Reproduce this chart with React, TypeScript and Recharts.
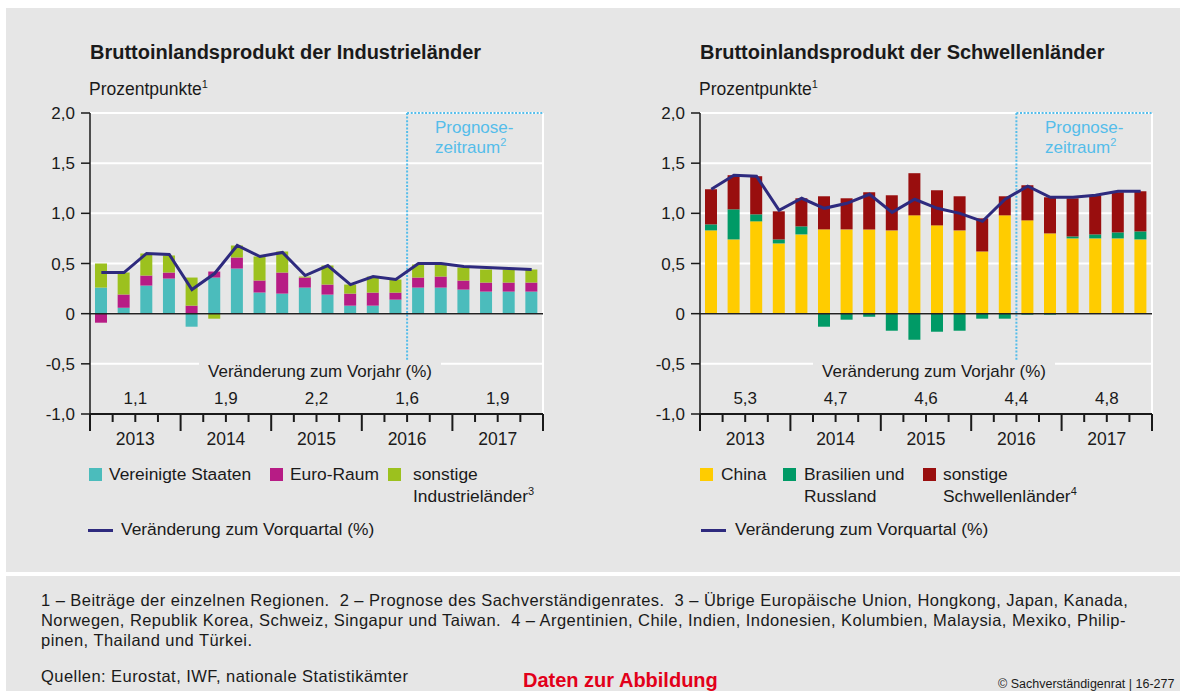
import React from 'react';
import { ComposedChart, Bar, Line, XAxis, YAxis, CartesianGrid, ReferenceLine } from 'recharts';

const FONT = "'Liberation Sans', Arial, Helvetica, sans-serif";
const INK = '#1a1a1a';

const quarters = ['2013Q1','2013Q2','2013Q3','2013Q4','2014Q1','2014Q2','2014Q3','2014Q4','2015Q1','2015Q2','2015Q3','2015Q4','2016Q1','2016Q2','2016Q3','2016Q4','2017Q1','2017Q2','2017Q3','2017Q4'];
const yearLabels = ['2013','2014','2015','2016','2017'];
const yTicks = [-1, -0.5, 0, 0.5, 1, 1.5, 2];
const xBoundaries = [0,1,2,3,4,5,6,7,8,9,10,11,12,13,14,15,16,17,18,19,20];
const forecastStart = 14;

// Industrieländer (Prozentpunkte)
const indUS = [0.26,0.06,0.28,0.35,-0.13,0.36,0.45,0.21,0.20,0.26,0.19,0.08,0.08,0.14,0.26,0.26,0.24,0.22,0.22,0.22];
const indEuro = [-0.09,0.13,0.10,0.06,0.08,0.06,0.11,0.12,0.21,0.10,0.10,0.12,0.13,0.07,0.10,0.11,0.09,0.09,0.09,0.09];
const indOther = [0.24,0.22,0.22,0.17,0.28,-0.05,0.12,0.24,0.21,0.01,0.19,0.09,0.16,0.13,0.13,0.12,0.13,0.13,0.13,0.13];
const indTotal = [0.41,0.41,0.60,0.59,0.24,0.40,0.68,0.57,0.61,0.38,0.48,0.29,0.37,0.34,0.50,0.50,0.47,0.46,0.45,0.44];
const indAnnual = ['1,1','1,9','2,2','1,6','1,9'];

// Schwellenländer (Prozentpunkte)
const emChina = [0.83,0.74,0.92,0.70,0.79,0.84,0.84,0.84,0.83,0.98,0.88,0.83,0.62,0.98,0.93,0.80,0.75,0.75,0.75,0.74];
const emBrRu = [0.06,0.30,0.07,0.04,0.08,-0.13,-0.06,-0.03,-0.17,-0.26,-0.18,-0.17,-0.05,-0.05,-0.01,-0.01,0.02,0.04,0.06,0.08];
const emOther = [0.35,0.34,0.38,0.28,0.28,0.33,0.31,0.37,0.35,0.42,0.35,0.34,0.33,0.19,0.35,0.36,0.38,0.39,0.40,0.40];
const emTotal = [1.24,1.38,1.37,1.03,1.15,1.05,1.10,1.19,1.01,1.14,1.05,1.00,0.92,1.14,1.27,1.16,1.16,1.18,1.22,1.22];
const emAnnual = ['5,3','4,7','4,6','4,4','4,8'];

const indColors = ['#4bbcbc', '#b71c85', '#9cc11e'];
const emColors = ['#ffcc00', '#009a66', '#990e0e'];
const LINE_COLOR = '#2e2a7e';
const FORECAST = '#55bdea';

const build = (a: number[], b: number[], c: number[], t: number[]) =>
  quarters.map((q, i) => ({ q, pos: i + 0.5, a: a[i], b: b[i], c: c[i], t: t[i] }));

const indData = build(indUS, indEuro, indOther, indTotal);
const emData = build(emChina, emBrRu, emOther, emTotal);

const fmt = (v: number) => (v === 0 ? '0' : v.toFixed(1).replace('.', ','));

const makeTick = (annual: string[]) => (props: any) => {
  const { x, y, payload } = props;
  const v = payload.value as number;
  const big = v % 4 === 0;
  const els: any[] = [
    <line key="l" x1={x} x2={x} y1={y} y2={y + (big ? 17 : 8)} stroke={INK} strokeWidth={2} />,
  ];
  if (v % 4 === 2) {
    const k = (v - 2) / 4;
    els.push(
      <text key="y" x={x} y={y + 31} textAnchor="middle" fontSize={17.5} fill={INK} fontFamily={FONT}>{yearLabels[k]}</text>
    );
    els.push(
      <text key="a" x={x} y={y - 10} textAnchor="middle" fontSize={17} fill={INK} fontFamily={FONT}>{annual[k]}</text>
    );
  }
  return <g>{els}</g>;
};

function Panel({ data, colors, annual, left, width, mr }: any) {
  return (
    <div style={{ position: 'absolute', left, top: 0, width, height: 480 }}>
      <ComposedChart width={width} height={480} data={data} stackOffset="sign"
        margin={{ top: 113, right: mr, bottom: 6, left: 0 }}>
        <CartesianGrid horizontal vertical={false} stroke="#ffffff" strokeWidth={2} />
        <XAxis xAxisId="num" dataKey="pos" type="number" domain={[0, 20]} allowDataOverflow
          ticks={xBoundaries} interval={0} height={60} tickSize={0} tickMargin={0}
          axisLine={{ stroke: INK, strokeWidth: 2 }} tickLine={false} tick={makeTick(annual)} />
        <XAxis dataKey="q" hide height={0} />
        <YAxis domain={[-1, 2]} ticks={yTicks} interval={0} allowDataOverflow width={90}
          tickFormatter={fmt} tickSize={9} tickMargin={6}
          axisLine={{ stroke: INK, strokeWidth: 1.5 }} tickLine={{ stroke: INK, strokeWidth: 1.5 }}
          tick={{ fontSize: 17, fill: INK, fontFamily: FONT }} />
        <ReferenceLine xAxisId="num" x={20} stroke="#ffffff" strokeWidth={2} />
        <ReferenceLine xAxisId="num" segment={[{ x: forecastStart, y: 2 }, { x: 20, y: 2 }]}
          stroke={FORECAST} strokeWidth={2} strokeDasharray="2 1.6" />
        <ReferenceLine xAxisId="num" segment={[{ x: forecastStart, y: 2 }, { x: forecastStart, y: -0.5 }]}
          stroke={FORECAST} strokeWidth={2} strokeDasharray="2 1.6" />
        <Bar dataKey="a" stackId="s" fill={colors[0]} barSize={12} isAnimationActive={false} />
        <Bar dataKey="b" stackId="s" fill={colors[1]} barSize={12} isAnimationActive={false} />
        <Bar dataKey="c" stackId="s" fill={colors[2]} barSize={12} isAnimationActive={false} />
        <ReferenceLine y={0} stroke="#222" strokeWidth={1.5} />
        <Line xAxisId="num" dataKey="t" stroke={LINE_COLOR} strokeWidth={3} dot={false}
          isAnimationActive={false} type="linear" />
      </ComposedChart>
    </div>
  );
}

function T({ x, b, fs = 17, children, style, center }: any) {
  return (
    <div style={{
      position: 'absolute', left: x, top: b - 0.8465 * fs, fontSize: fs, lineHeight: `${fs}px`,
      whiteSpace: 'pre', transform: center ? 'translateX(-50%)' : undefined, ...style,
    }}>{children}</div>
  );
}

const Sup = ({ children }: any) => (
  <span style={{ fontSize: 11, position: 'relative', top: -7 }}>{children}</span>
);

const Sq = ({ x, color }: any) => (
  <div style={{ position: 'absolute', left: x, top: 468, width: 13, height: 13, background: color }} />
);

const LegLine = ({ x }: any) => (
  <div style={{ position: 'absolute', left: x, top: 528.5, width: 25, height: 3, background: LINE_COLOR }} />
);

const VjBox = ({ cx }: any) => (
  <div style={{
    position: 'absolute', left: cx, top: 361, height: 22, lineHeight: '22px', fontSize: 17,
    padding: '0 9px', background: '#e6e6e6', transform: 'translateX(-50%)', whiteSpace: 'pre',
  }}>Veränderung zum Vorjahr (%)</div>
);

const Prog = ({ x }: any) => (
  <>
    <T x={x} b={133} style={{ color: FORECAST }}>Prognose-</T>
    <T x={x} b={153} style={{ color: FORECAST }}>zeitraum<Sup>2</Sup></T>
  </>
);

const FN = { letterSpacing: 0.45 };

export default function App() {
  return (
    <div style={{
      position: 'absolute', left: 0, top: 0, width: 1180, height: 691, background: '#ffffff',
      overflow: 'hidden', fontFamily: FONT, color: INK,
    }}>
      <div style={{ position: 'absolute', left: 6, top: 8, width: 1174, height: 564, background: '#e6e6e6' }} />
      <div style={{ position: 'absolute', left: 6, top: 576, width: 1174, height: 115, background: '#e6e6e6' }} />

      <Panel data={indData} colors={indColors} annual={indAnnual} left={0} width={590} mr={47} />
      <Panel data={emData} colors={emColors} annual={emAnnual} left={610} width={570} mr={28} />

      <T x={90} b={59} fs={20} style={{ fontWeight: 'bold' }}>Bruttoinlandsprodukt der Industrieländer</T>
      <T x={700} b={59} fs={20} style={{ fontWeight: 'bold' }}>Bruttoinlandsprodukt der Schwellenländer</T>
      <T x={89} b={96} fs={17.5}>Prozentpunkte<Sup>1</Sup></T>
      <T x={699} b={96} fs={17.5}>Prozentpunkte<Sup>1</Sup></T>

      <Prog x={435} />
      <Prog x={1045} />

      <VjBox cx={320} />
      <VjBox cx={934} />

      <Sq x={89} color={indColors[0]} />
      <T x={109} b={481} fs={17.4}>Vereinigte Staaten</T>
      <Sq x={270} color={indColors[1]} />
      <T x={290} b={481} fs={17.4}>Euro-Raum</T>
      <Sq x={388} color={indColors[2]} />
      <T x={413} b={481} fs={17.4}>sonstige</T>
      <T x={413} b={503} fs={17.4}>Industrieländer<Sup>3</Sup></T>
      <LegLine x={88} />
      <T x={121} b={536} fs={17.4}>Veränderung zum Vorquartal (%)</T>

      <Sq x={700} color={emColors[0]} />
      <T x={721} b={481} fs={17.4}>China</T>
      <Sq x={783} color={emColors[1]} />
      <T x={804} b={481} fs={17.4}>Brasilien und</T>
      <T x={804} b={503} fs={17.4}>Russland</T>
      <Sq x={923} color={emColors[2]} />
      <T x={943} b={481} fs={17.4}>sonstige</T>
      <T x={943} b={503} fs={17.4}>Schwellenländer<Sup>4</Sup></T>
      <LegLine x={701} />
      <T x={735} b={536} fs={17.4}>Veränderung zum Vorquartal (%)</T>

      <T x={41} b={606} fs={16.5} style={FN}>1 – Beiträge der einzelnen Regionen.  2 – Prognose des Sachverständigenrates.  3 – Übrige Europäische Union, Hongkong, Japan, Kanada,</T>
      <T x={41} b={626} fs={16.5} style={FN}>Norwegen, Republik Korea, Schweiz, Singapur und Taiwan.  4 – Argentinien, Chile, Indien, Indonesien, Kolumbien, Malaysia, Mexiko, Philip-</T>
      <T x={41} b={646} fs={16.5} style={FN}>pinen, Thailand und Türkei.</T>
      <T x={41} b={682} fs={16.5} style={FN}>Quellen: Eurostat, IWF, nationale Statistikämter</T>
      <T x={523} b={687} fs={20} style={{ fontWeight: 'bold', color: '#e2001a' }}>Daten zur Abbildung</T>
      <T x={998} b={689} fs={12.5}>© Sachverständigenrat | 16-277</T>
    </div>
  );
}
